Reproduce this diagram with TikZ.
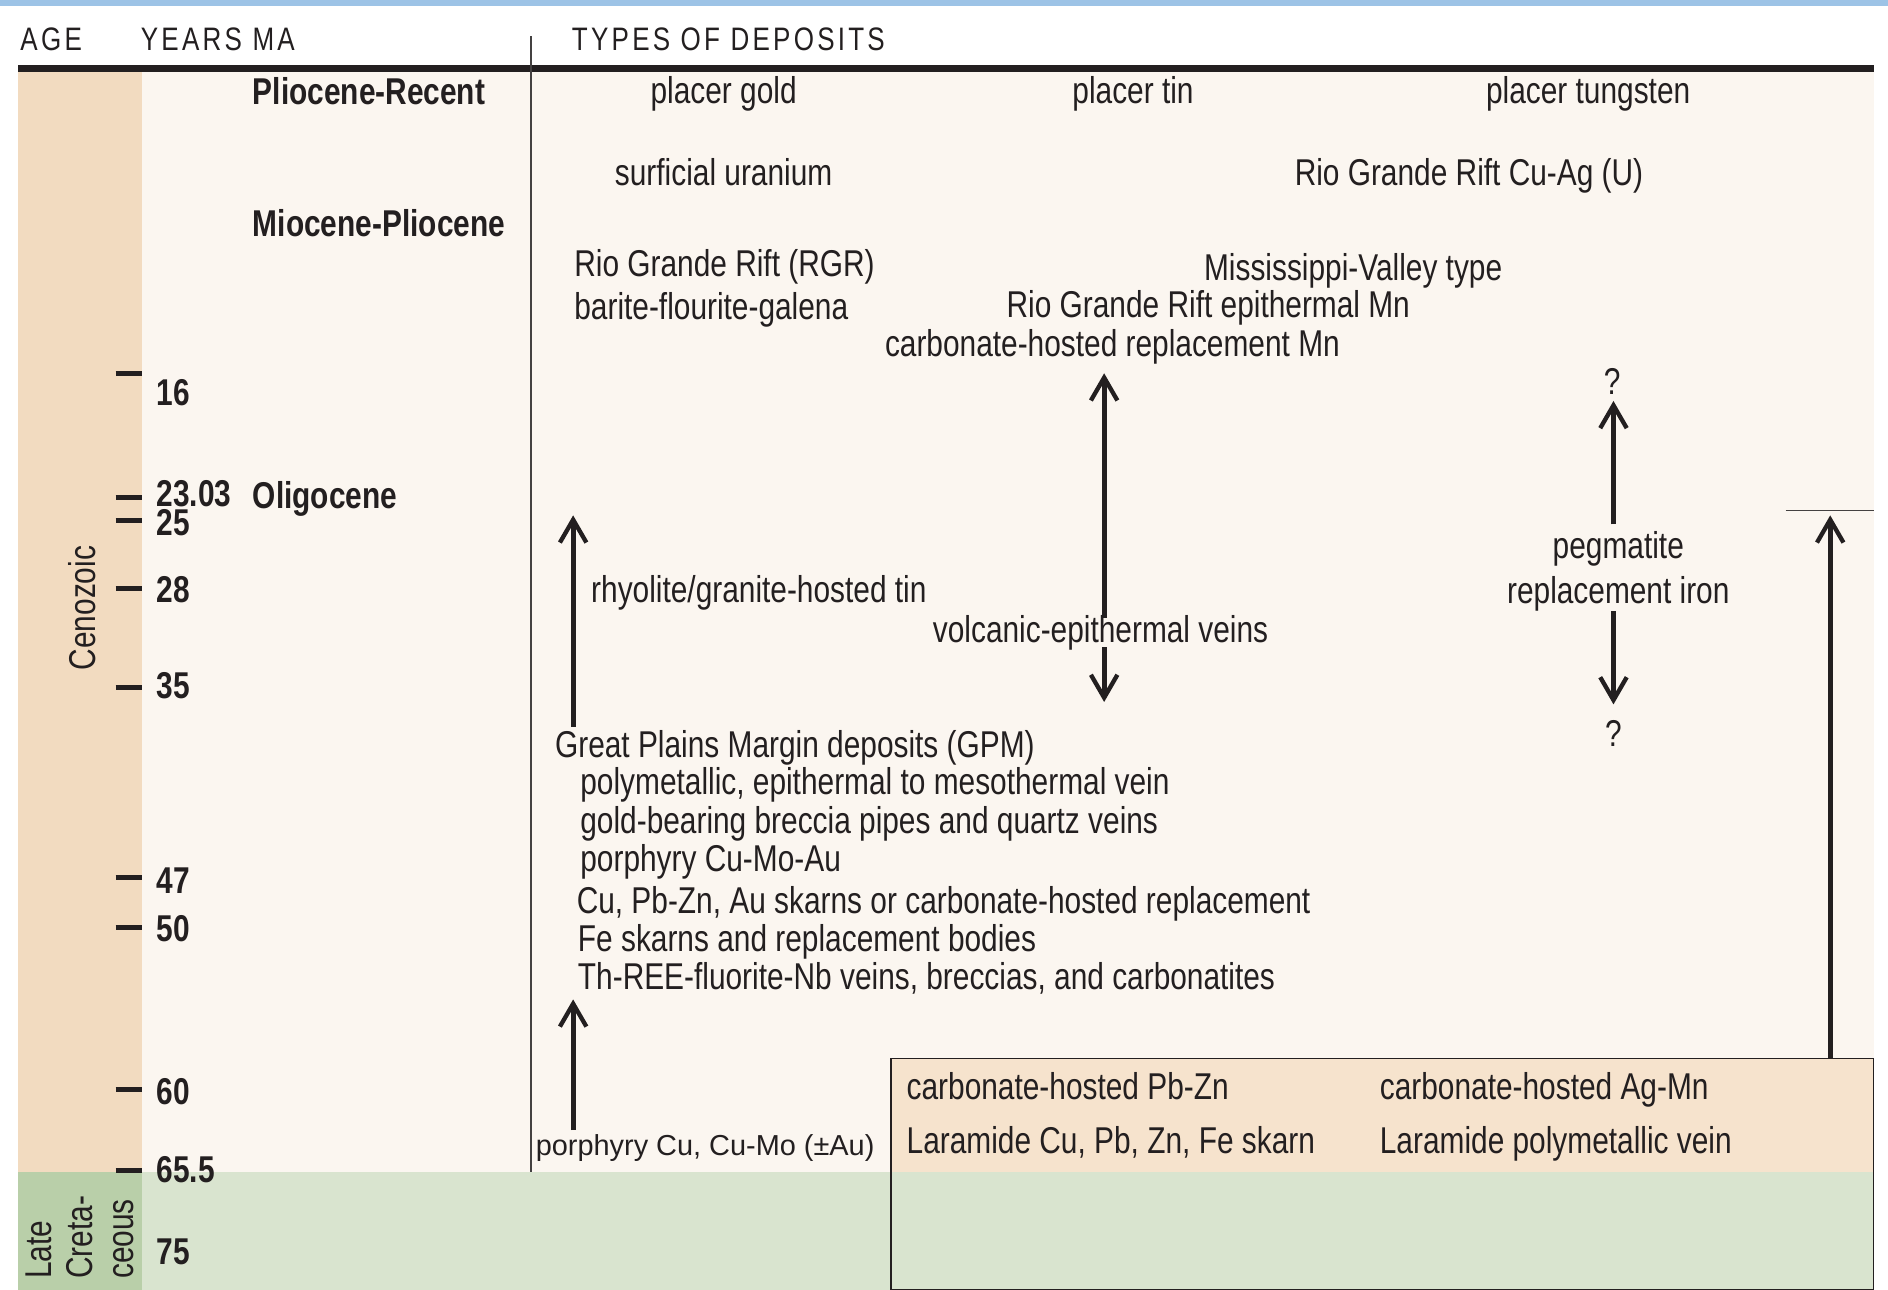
\documentclass[tikz,border=0pt]{standalone}
\usepackage{fontspec}
\setmainfont{Liberation Sans}[FakeStretch=0.8]
\newfontfamily\hdrfont{Liberation Sans}[FakeStretch=0.8,LetterSpace=10]
\newfontfamily\widefont{Liberation Sans}
\usetikzlibrary{arrows.meta}
\definecolor{barblue}{HTML}{9DC3E6}
\definecolor{coltan}{HTML}{F2DBC0}
\definecolor{cream}{HTML}{FBF6F0}
\definecolor{boxtan}{HTML}{F6E3CD}
\definecolor{greendark}{HTML}{B9CFA9}
\definecolor{greenlight}{HTML}{D9E4CF}
\definecolor{ink}{HTML}{231F20}
\tikzset{
  every node/.style={inner sep=0pt, outer sep=0pt, text=ink, font=\fontsize{31}{32}\selectfont},
  lt/.style={anchor=base west, yshift=-2pt},
  ct/.style={anchor=base, yshift=-2pt},
  hdr/.style={anchor=base west, font=\hdrfont\fontsize{27}{28}\selectfont},
  epoch/.style={anchor=base west, yshift=-2pt, font=\bfseries\fontsize{31}{32}\selectfont},
  num/.style={anchor=base west, yshift=-2pt, font=\bfseries\fontsize{31}{32}\selectfont},
  tickmark/.style={line width=4pt, draw=ink},
  arr/.style={line width=4.3pt, draw=ink, -{Straight Barb[length=19pt,width=22pt,line width=3.6pt]}},
}
\begin{document}
\begin{tikzpicture}[x=1pt,y=-1pt]
\useasboundingbox (0,0) rectangle (1568,1071);
% backgrounds
\fill[white] (0,0) rectangle (1568,1071);
\fill[barblue] (0,0) rectangle (1568,5);
\fill[coltan] (15,60) rectangle (118,973);
\fill[cream] (118,60) rectangle (1556,973);
\fill[greendark] (15,973) rectangle (118,1071);
\fill[greenlight] (118,973) rectangle (1556,1071);
\fill[boxtan] (740,879) rectangle (1556,973);
\node[draw=ink, line width=1.2pt, minimum width=816pt, minimum height=192pt, anchor=north west] (box) at (740,879) {};
% header
\node[hdr] (hAge) at (17,42) {AGE};
\node[hdr] (hYears) at (117,42) {YEARS MA};
\node[hdr] (hTypes) at (475,42) {TYPES OF DEPOSITS};
\draw[line width=5.5pt, draw=ink] (15,57) -- (1556,57);
\draw[line width=1.2pt, draw=ink!85] (441,30) -- (441,973);
% age column
\node[rotate=90] (ceno) at (68,505) {Cenozoic};
\node[rotate=90, anchor=west, align=left, font=\fontsize{31}{34}\selectfont] (cret) at (66,1062) {Late\\Creta-\\ceous};
% ticks
\foreach \ty in {310,413,432,489,571,729,770,905,972}
  \draw[tickmark] (96,\ty) -- (118,\ty);
\node[num] (n16) at (130,335) {16};
\node[num] (n2303) at (130,419) {23.03};
\node[num] (n25) at (130,443) {25};
\node[num] (n28) at (130,498) {28};
\node[num] (n35) at (130,578) {35};
\node[num] (n47) at (130,740) {47};
\node[num] (n50) at (130,780) {50};
\node[num] (n60) at (130,915) {60};
\node[num] (n655) at (130,980) {65.5};
\node[num] (n75) at (130,1048) {75};
% epochs
\node[epoch] (ePR) at (210,85) {Pliocene-Recent};
\node[epoch] (eMP) at (210,194) {Miocene-Pliocene};
\node[epoch] (eOl) at (210,420) {Oligocene};
% deposits
\node[ct] (pgold) at (601,84) {placer gold};
\node[ct] (ptin) at (941,84) {placer tin};
\node[ct] (ptung) at (1319,84) {placer tungsten};
\node[ct] (suran) at (601,152) {surficial uranium};
\node[ct] (rgrcu) at (1220,152) {Rio Grande Rift Cu-Ag (U)};
\node[lt] (rgr) at (477,228) {Rio Grande Rift (RGR)};
\node[lt] (bfg) at (477,263) {barite-flourite-galena};
\node[lt] (mvt) at (1000,231) {Mississippi-Valley type};
\node[lt] (rgrmn) at (836,262) {Rio Grande Rift epithermal Mn};
\node[lt] (chmn) at (735,294) {carbonate-hosted replacement Mn};
\node[lt] (rhy) at (491,498) {rhyolite/granite-hosted tin};
\node[ct] (volc) at (914,532) {volcanic-epithermal veins};
\node[ct] (q1) at (1339,326) {?};
\node[ct] (peg) at (1344,462) {pegmatite};
\node[ct] (repfe) at (1344,499) {replacement iron};
\node[ct] (q2) at (1340,618) {?};
\node[lt] (gpm) at (461,627) {Great Plains Margin deposits (GPM)};
\node[lt] (poly) at (482,658) {polymetallic, epithermal to mesothermal vein};
\node[lt] (gold) at (482,690) {gold-bearing breccia pipes and quartz veins};
\node[lt] (pcma) at (482,722) {porphyry Cu-Mo-Au};
\node[lt] (skarn) at (479,757) {Cu, Pb-Zn, Au skarns or carbonate-hosted replacement};
\node[lt] (fesk) at (480,788) {Fe skarns and replacement bodies};
\node[lt] (three) at (480,820) {Th-REE-fluorite-Nb veins, breccias, and carbonatites};
\node[lt, font=\widefont\fontsize{24}{26}\selectfont] (porph) at (445,958) {porphyry Cu, Cu-Mo (\textpm Au)};
\node[lt] (chpb) at (753,911) {carbonate-hosted Pb-Zn};
\node[lt] (chag) at (1146,911) {carbonate-hosted Ag-Mn};
\node[lt] (lsk) at (753,956) {Laramide Cu, Pb, Zn, Fe skarn};
\node[lt] (lpv) at (1146,956) {Laramide polymetallic vein};
% connectors
\coordinate (vTop) at (917,310);
\coordinate (vBot) at (917,583);
\draw[arr] ([yshift=-2pt]volc.north -| vTop) -- (vTop);
\draw[arr] ([yshift=3pt]volc.south -| vBot) -- (vBot);
\coordinate (pTop) at (1340,333);
\coordinate (pBot) at (1340,585);
\draw[arr] ([yshift=6pt]peg.north -| pTop) -- (pTop);
\draw[arr] (repfe.south -| pBot) -- (pBot);
\coordinate (rhyTip) at (476,428);
\draw[arr] ([yshift=3pt]gpm.north -| rhyTip) -- (rhyTip);
\coordinate (porTip) at (476,830);
\draw[arr] ([yshift=4pt]porph.north -| porTip) -- (porTip);
\coordinate (rTip) at (1520,428);
\coordinate (barL) at (1483,424);
\coordinate (barR) at (1556,424);
\draw[line width=1.2pt, draw=ink!85] (barL) -- (barR);
\draw[arr] (box.north -| rTip) -- (rTip);
\end{tikzpicture}
\end{document}
